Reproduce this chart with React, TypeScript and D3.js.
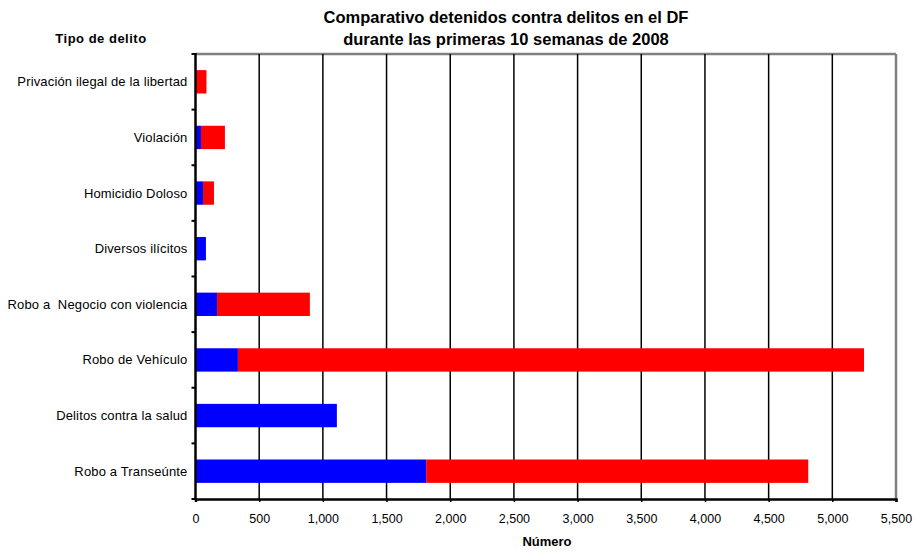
import * as d3 from "d3";
import { useEffect, useRef } from "react";

const CATEGORIES = [
  "Privación ilegal de la libertad",
  "Violación",
  "Homicidio Doloso",
  "Diversos ilícitos",
  "Robo a  Negocio con violencia",
  "Robo de Vehículo",
  "Delitos contra la salud",
  "Robo a Transeúnte",
];
const BLUE_VALUES = [6, 43, 59, 82, 169, 333, 1110, 1811];
const RED_VALUES = [80, 188, 86, 0, 729, 4916, 0, 3000];
const X_TICKS = [0, 500, 1000, 1500, 2000, 2500, 3000, 3500, 4000, 4500, 5000, 5500];

const W = 917;
const H = 552;
const MARGIN = { top: 54, right: 21, bottom: 53, left: 195.5 };
const FONT = "Liberation Sans, Arial, sans-serif";

const App = () => {
  const svgRef = useRef<SVGSVGElement>(null);

  useEffect(() => {
    if (!svgRef.current) return;
    const root = d3.select(svgRef.current);
    root.selectAll("*").remove();

    const width = W - MARGIN.left - MARGIN.right;
    const height = H - MARGIN.top - MARGIN.bottom;

    const x = d3.scaleLinear().domain([0, 5500]).range([0, width]);
    const y = d3.scaleBand().domain(CATEGORIES).range([0, height]).paddingInner(0.58).paddingOuter(0.29);

    const g = root.append("g").attr("transform", `translate(${MARGIN.left},${MARGIN.top})`);

    // grey frame on top and right
    g.append("line").attr("x1", 0).attr("x2", width).attr("y1", 0).attr("y2", 0)
      .attr("stroke", "#808080").attr("stroke-width", 2.5);
    g.append("line").attr("x1", width).attr("x2", width).attr("y1", 0).attr("y2", height)
      .attr("stroke", "#808080").attr("stroke-width", 2.5);

    // gridlines
    g.selectAll(".grid")
      .data(X_TICKS.slice(1, -1))
      .enter()
      .append("line")
      .attr("x1", (d) => x(d)).attr("x2", (d) => x(d))
      .attr("y1", 0).attr("y2", height)
      .attr("stroke", "#000").attr("stroke-width", 1.5);

    const rows = CATEGORIES.map((c, i) => ({ c, blue: BLUE_VALUES[i], red: RED_VALUES[i] }));

    g.selectAll(".blue")
      .data(rows)
      .enter()
      .append("rect")
      .attr("x", x(0))
      .attr("y", (d) => y(d.c)!)
      .attr("width", (d) => x(d.blue) - x(0))
      .attr("height", y.bandwidth())
      .attr("fill", "#0000ff");

    g.selectAll(".red")
      .data(rows)
      .enter()
      .append("rect")
      .attr("x", (d) => x(d.blue))
      .attr("y", (d) => y(d.c)!)
      .attr("width", (d) => x(d.blue + d.red) - x(d.blue))
      .attr("height", y.bandwidth())
      .attr("fill", "#ff0000");

    // bottom axis
    const xAxis = g.append("g").attr("transform", `translate(0,${height})`)
      .call(d3.axisBottom(x).tickValues(X_TICKS).tickSize(3).tickPadding(12).tickFormat(d3.format(",")));
    xAxis.select(".domain").attr("stroke", "#000").attr("stroke-width", 2.5);
    xAxis.selectAll(".tick line").attr("stroke", "#000").attr("stroke-width", 1.5);
    xAxis.selectAll("text").attr("font-family", FONT).attr("font-size", 12.5).attr("fill", "#000");

    // left axis, ticks sit on band boundaries
    g.append("line").attr("x1", 0).attr("x2", 0).attr("y1", -1).attr("y2", height + 1)
      .attr("stroke", "#000").attr("stroke-width", 2.5);
    const step = y.step();
    g.selectAll(".ytick")
      .data(d3.range(CATEGORIES.length + 1))
      .enter()
      .append("line")
      .attr("x1", -4).attr("x2", 0)
      .attr("y1", (i) => i * step).attr("y2", (i) => i * step)
      .attr("stroke", "#000").attr("stroke-width", 2);

    g.selectAll(".ylab")
      .data(CATEGORIES)
      .enter()
      .append("text")
      .attr("x", -8)
      .attr("y", (d) => y(d)! + y.bandwidth() / 2)
      .attr("dy", "0.35em")
      .attr("text-anchor", "end")
      .attr("font-family", FONT)
      .attr("font-size", 13)
      .attr("letter-spacing", 0.15)
      .attr("fill", "#000")
      .style("white-space", "pre")
      .text((d) => d);

    // titles
    const title = root.append("text").attr("text-anchor", "middle").attr("font-family", FONT)
      .attr("font-size", 16.5).attr("font-weight", "bold").attr("fill", "#000");
    title.append("tspan").attr("x", 506).attr("y", 23).text("Comparativo detenidos contra delitos en el DF");
    title.append("tspan").attr("x", 506).attr("y", 45).text("durante las primeras 10 semanas de 2008");

    root.append("text").attr("x", 101).attr("y", 43).attr("text-anchor", "middle")
      .attr("font-family", FONT).attr("font-size", 13).attr("letter-spacing", 0.5)
      .attr("font-weight", "bold").text("Tipo de delito");

    root.append("text").attr("x", 547).attr("y", 546).attr("text-anchor", "middle")
      .attr("font-family", FONT).attr("font-size", 13).attr("font-weight", "bold").text("Número");
  }, []);

  return (
    <div style={{ position: "absolute", left: 0, top: 0 }}>
      <svg ref={svgRef} width={W} height={H} style={{ display: "block", background: "#fff" }} />
    </div>
  );
};

export default App;
